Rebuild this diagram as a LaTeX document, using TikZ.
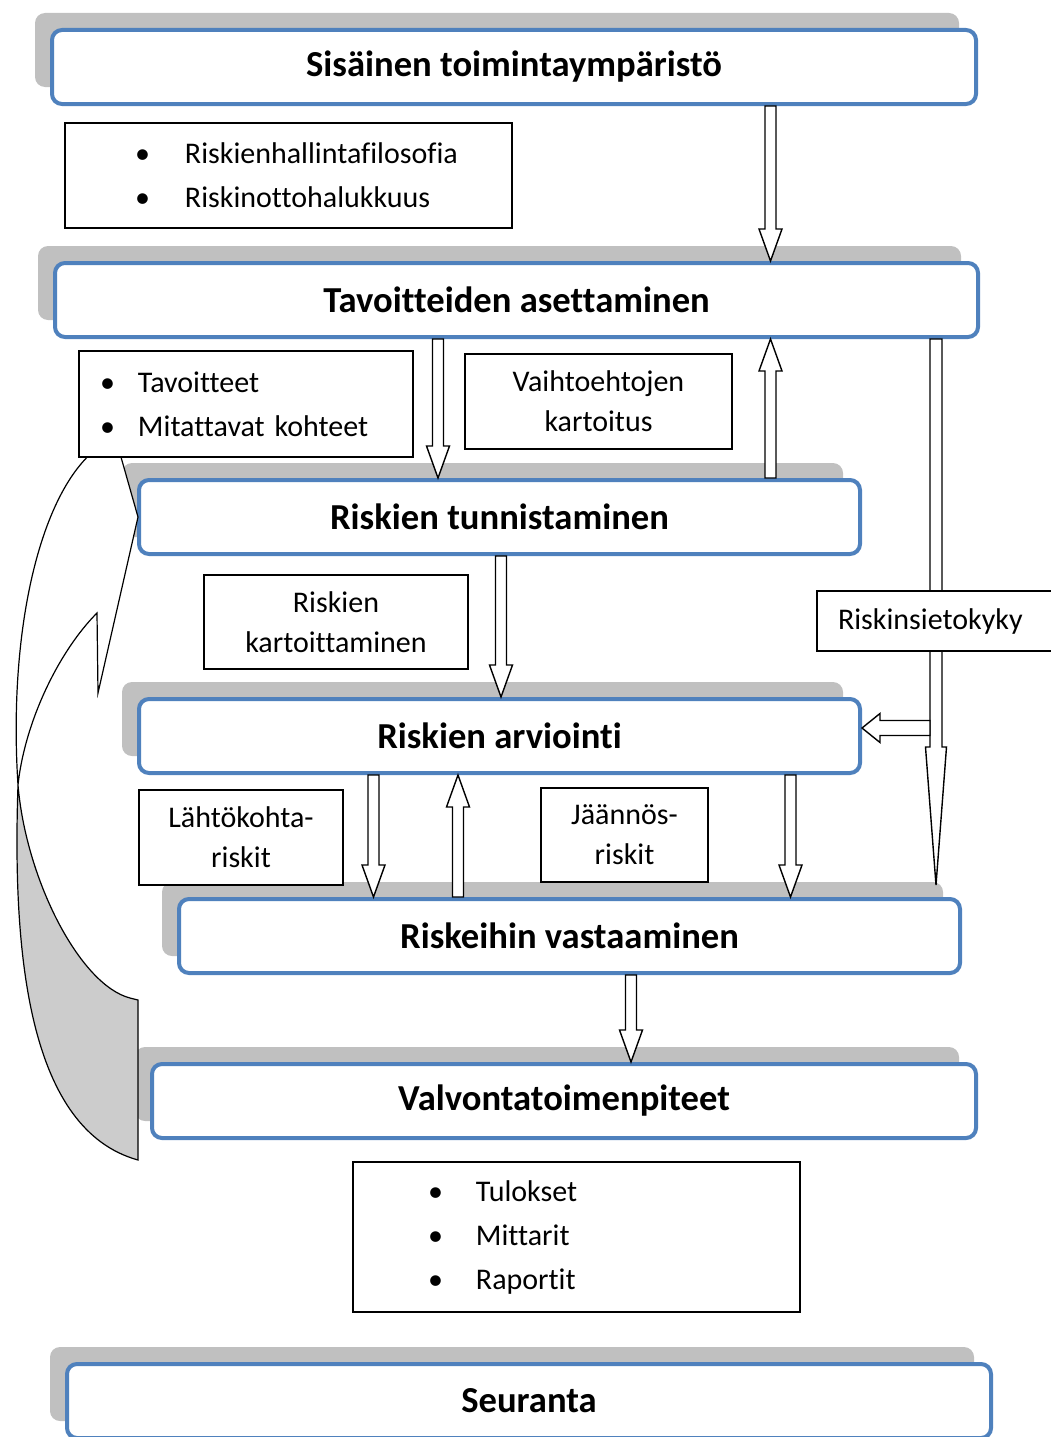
\documentclass[tikz,border=0pt]{standalone}
\usepackage{fontspec}
\setmainfont{Carlito}[Ligatures=NoCommon]
\usepackage{tikz}
\usetikzlibrary{calc,shadows}
\definecolor{stageblue}{RGB}{79,129,189}
\definecolor{shadegray}{RGB}{192,192,192}
\definecolor{loopgray}{RGB}{204,204,204}
\tikzset{
  stage/.style = {draw=stageblue, line width=4pt, rounded corners=10pt, fill=white,
    minimum height=74pt, font=\fontsize{36.6pt}{44pt}\selectfont\bfseries,
    drop shadow={shadow xshift=-17pt, shadow yshift=17pt, fill=shadegray, opacity=1}},
  note/.style  = {draw=black, line width=1.6pt, fill=white, align=center, inner sep=0pt,
    font=\fontsize{30pt}{40pt}\selectfont},
  list/.style  = {note, align=left, font=\fontsize{30pt}{44pt}\selectfont},
  ba shaft/.store in=\bashaft, ba head/.store in=\bahead, ba length/.store in=\balen,
  ba shaft=11pt, ba head=23pt, ba length=32pt,
  blockarrow/.style = {draw=black, fill=white, line width=1.4pt,
    to path={
      ($(\tikztostart)!0.5*\bashaft!90:(\tikztotarget)$)
      -- ($(\tikztotarget)!\balen!(\tikztostart)!0.5*\bashaft!90:(\tikztotarget)$)
      -- ($(\tikztotarget)!\balen!(\tikztostart)!0.5*\bahead!90:(\tikztotarget)$)
      -- (\tikztotarget)
      -- ($(\tikztotarget)!\balen!(\tikztostart)!0.5*\bahead!-90:(\tikztotarget)$)
      -- ($(\tikztotarget)!\balen!(\tikztostart)!0.5*\bashaft!-90:(\tikztotarget)$)
      -- ($(\tikztostart)!0.5*\bashaft!-90:(\tikztotarget)$) -- cycle}},
}
\newcommand{\bitem}[2][48pt]{\makebox[#1][l]{\textbullet}\mbox{#2}}

\begin{document}
\begin{tikzpicture}[x=1pt, y=-1pt]
  \useasboundingbox (0,0) rectangle (1050,1437);
  \node[stage, minimum width=924pt] (env)     at (514,67)     {Sisäinen toimintaympäristö};
  \node[stage, minimum width=923pt] (goals)   at (516.5,300)  {Tavoitteiden asettaminen};
  \node[stage, minimum width=721pt] (ident)   at (499.5,517)  {Riskien tunnistaminen};
  \node[stage, minimum width=721pt] (assess)  at (499.5,736)  {Riskien arviointi};
  \node[stage, minimum width=781pt] (respond) at (569.5,936)  {Riskeihin vastaaminen};
  \node[stage, minimum width=824pt] (control) at (564,1101)   {Valvontatoimenpiteet};
  \node[stage, minimum width=924pt] (monitor) at (529,1401)   {Seuranta};

  % feedback loop on the left
  \coordinate (twist) at (18,785);
  \filldraw[fill=loopgray, line width=1.2pt] (twist) .. controls (26,880) and (80,985) .. (130,998)
    -- (138,1000) -- (138,1160) .. controls (30,1130) and (12,960) .. (twist) -- cycle;
  \filldraw[fill=white, line width=1.2pt] (119,450) -- (138,517) -- (98,693) -- (97,613)
    .. controls (60,650) and (25,720) .. (twist) .. controls (8,630) and (40,495) .. (95,450) -- cycle;

  \coordinate (xa) at (770.5,0);
  \coordinate (xb) at (438,0);
  \coordinate (xc) at (936,0);
  \coordinate (xd) at (501,0);
  \coordinate (xe) at (373.5,0);
  \coordinate (xf) at (458,0);
  \coordinate (xg) at (790.5,0);
  \coordinate (xh) at (631,0);
  \coordinate (split) at (930,728);
  \draw[blockarrow] (env.south -| xa) to (goals.north -| xa);
  \draw[blockarrow] (goals.south -| xb) to (ident.north -| xb);
  \draw[blockarrow] (ident.north -| xa) to (goals.south -| xa);
  \draw[blockarrow, ba shaft=12pt, ba head=21pt, ba length=138pt] (goals.south -| xc) to ($(respond.north -| xc)+(0,-12)$);
  \draw[blockarrow, ba shaft=15pt, ba head=29pt, ba length=18pt] (split) to (assess.east |- split);
  \draw[blockarrow] (ident.south -| xd) to (assess.north -| xd);
  \draw[blockarrow] (assess.south -| xe) to (respond.north -| xe);
  \draw[blockarrow] (respond.north -| xf) to (assess.south -| xf);
  \draw[blockarrow] (assess.south -| xg) to (respond.north -| xg);
  \draw[blockarrow] (respond.south -| xh) to (control.north -| xh);

  \node[list, minimum height=105pt, inner xsep=70pt, text width=307pt] (philosophy) at (288.5,175.5)
    {\bitem[50pt]{Riskienhallintafilosofia}\\\bitem[50pt]{Riskinottohalukkuus}};
  \node[list, minimum height=106pt, inner xsep=21pt, text width=292pt] (targets) at (246,404)
    {\bitem[38pt]{Tavoitteet}\\\bitem[38pt]{Mitattavat kohteet}};
  \node[note, minimum width=267pt, minimum height=95pt] (options) at (598.5,401.5) {Vaihtoehtojen\\kartoitus};
  \node[note, minimum width=264pt, minimum height=94pt] (mapping) at (336,622) {Riskien\\kartoittaminen};
  \node[note, align=left, inner xsep=21pt, text width=208pt, minimum height=60pt] (tolerance) at (942,621) {Riskinsietokyky};
  \node[note, minimum width=204pt, minimum height=95pt] (inherent) at (241,837.5) {Lähtökohta-\\riskit};
  \node[note, minimum width=167pt, minimum height=94pt] (residual) at (624.5,835) {Jäännös-\\riskit};
  \node[list, minimum height=150pt, inner xsep=75pt, text width=297pt] (results) at (576.5,1237)
    {\bitem{Tulokset}\\\bitem{Mittarit}\\\bitem{Raportit}};
\end{tikzpicture}
\end{document}
